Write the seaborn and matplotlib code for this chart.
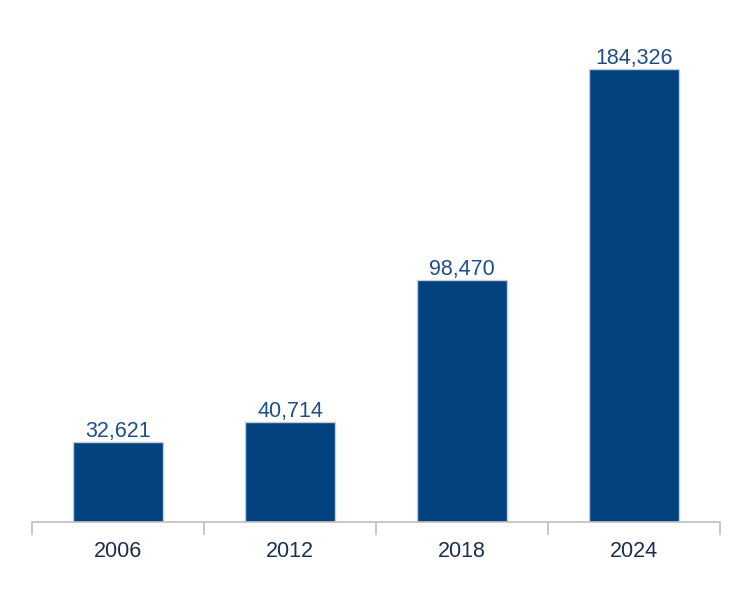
import pandas as pd
import numpy as np
import matplotlib.pyplot as plt
import seaborn as sns

years = ['2006', '2012', '2018', '2024']
values = [32621, 40714, 98470, 184326]

sns.set_style('white')
plt.rcParams['font.family'] = ['Liberation Sans', 'DejaVu Sans']

dat = pd.DataFrame({'year': years, 'value': values})

fig = plt.figure(figsize=(7.51, 5.99), dpi=100)
ax = fig.add_axes([32/751, 77/599, 688/751, 492/599])

sns.barplot(data=dat, x='year', y='value', color='#02427f', saturation=1,
            width=0.52, edgecolor='#c5ccd6', linewidth=1, ax=ax)

ax.bar_label(ax.containers[0], labels=['{:,}'.format(v) for v in values],
             padding=0, fontsize=15.5, color='#1f4f86')

ax.set_xlim(-0.5, 3.5)
ax.set_ylim(0, 200200)
ax.set_xlabel('')
ax.set_ylabel('')
ax.set_yticks([])
for s in ['top', 'right', 'left']:
    ax.spines[s].set_visible(False)
ax.spines['bottom'].set_color('#bfbfbf')
ax.spines['bottom'].set_linewidth(1.2)

ax.set_xticks(np.arange(-0.5, 4, 1), minor=True)
ax.tick_params(axis='x', which='minor', length=9, width=1.2, color='#bfbfbf', bottom=True)
ax.tick_params(axis='x', which='major', length=0, pad=14, labelsize=15.5, labelcolor='#1c2f4f')

fig.savefig('out.png', dpi=100)
